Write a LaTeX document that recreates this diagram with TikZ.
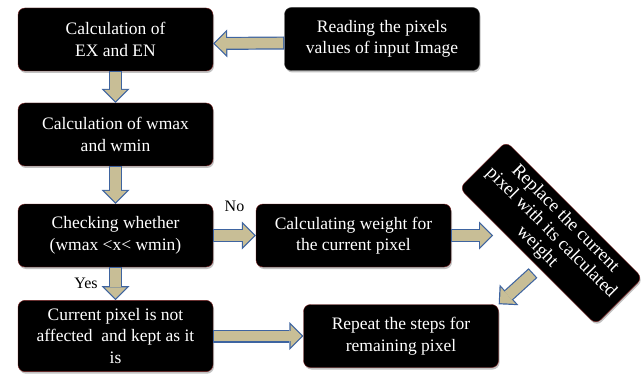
\documentclass[tikz,border=0pt]{standalone}
\usepackage{fontspec}
\setmainfont{Liberation Serif}
\usetikzlibrary{arrows.meta}
\usetikzlibrary{shadows}

\definecolor{arrowtan}{RGB}{200,190,150}
\definecolor{arrowblue}{RGB}{62,100,160}
\definecolor{boxedge}{RGB}{120,30,30}

\begin{document}
\begin{tikzpicture}[
      x = 1pt, y = -1pt,
      stage/.style = {
        rectangle, rounded corners = 7pt,
        draw = boxedge, fill = black, text = white,
        align = center, inner sep = 8pt,
        minimum width = 195pt, minimum height = 63pt,
        font = \fontsize{17.5}{21.5}\selectfont,
        drop shadow = {shadow xshift = 1pt, shadow yshift = -2pt, fill = black!40, opacity = .6}
      },
      flow/.style = {
        draw = arrowblue, line width = 13pt,
        -{Triangle[width = 28pt, length = 14pt, line width = 0pt]},
        postaction = {draw = arrowtan, line width = 10.6pt,
          shorten <= 1.2pt, shorten >= 1.7pt,
          -{Triangle[width = 22.2pt, length = 11.1pt, line width = 0pt]}}
      },
      answer/.style = { font = \fontsize{16}{19}\selectfont },
    ]
    \useasboundingbox (0,0) rectangle (642,374);

    \foreach \n/\y/\t in {exen/39.5/{Calculation of\\EX and EN},
                          wmm/134.5/{Calculation of wmax\\and wmin},
                          check/235.5/{Checking whether\\(wmax <x< wmin)},
                          current/336/{Current pixel is not\\affected~ and kept as it\\is}} {
      \node[stage] (\n) at (115.5,\y) {\t};
    }

    \node[stage, draw = gray!50!black] (read) at (382,39) {Reading the pixels\\values of input Image};
    \node[stage] (cweight) at (353.5,235.5) {Calculating weight for\\the current pixel};
    \node[stage] (repeat) at (401,336) {Repeat the steps for\\remaining pixel};
    \node[stage, rotate = -45, minimum width = 193pt, minimum height = 66pt, inner sep = 0pt,
          font = \fontsize{18.5}{20}\selectfont]
      (repl) at (551,233) {Replace the current\\pixel with its calculated\\weight};

    \coordinate (rin) at (493,235.5);
    \coordinate (rout) at (533,273);

    \draw[flow] ([yshift=-4pt]read.west) -- ([yshift=-4pt]exen.east);
    \draw[flow] (exen) -- (wmm);
    \draw[flow] (wmm) -- (check);
    \draw[flow] (check) -- (cweight) node[answer, midway, above = 14pt] {No};
    \draw[flow] (check) -- (current) node[answer, midway, left = 8pt] {Yes};
    \draw[flow] (current) -- (repeat);
    \draw[flow] (cweight) -- (rin);
    \draw[flow] (rout) -- (repeat.north east);
  \end{tikzpicture}
\end{document}
